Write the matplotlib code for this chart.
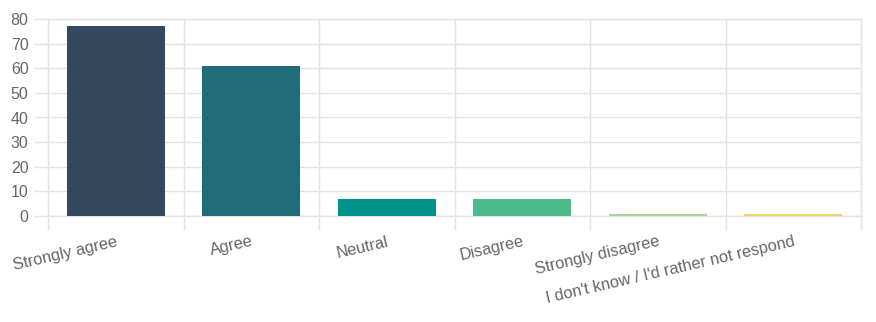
import matplotlib
matplotlib.use("Agg")
import matplotlib.pyplot as plt
import numpy as np

categories = ["Strongly agree", "Agree", "Neutral", "Disagree",
              "Strongly disagree", "I don't know / I'd rather not respond"]
values = [77, 61, 7, 7, 1, 1]
colors = ["#34495E", "#206D79", "#00918A", "#4DBA8A", "#A6D58E", "#F3D06A"]
yticks = [0, 10, 20, 30, 40, 50, 60, 70, 80]

plt.rcParams['font.family'] = ['Liberation Sans', 'DejaVu Sans']

W, H = 876, 322
fig = plt.figure(figsize=(W / 100, H / 100), dpi=100)
ax = fig.add_axes([48 / W, (H - 216) / H, (861 - 48) / W, (216 - 19) / H])

x = np.arange(len(categories))
ax.bar(x, values, width=0.72, color=colors, zorder=3)

ax.set_xlim(-0.5, len(categories) - 0.5)
ax.set_ylim(0, 80)
ax.set_yticks(yticks)
ax.set_yticklabels([str(t) for t in yticks], fontsize=11.5, color="#666666")

ax.set_xticks(x)
ax.set_xticklabels(categories, rotation=13, ha="right", rotation_mode="anchor",
                   fontsize=11.8, color="#666666")
ax.set_xticks(np.arange(len(categories) + 1) - 0.5, minor=True)

gc = "#e3e3e3"
ax.grid(True, axis="y", which="major", color=gc, linewidth=1, zorder=0)
ax.grid(True, axis="x", which="minor", color=gc, linewidth=1, zorder=0)
ax.tick_params(axis="x", which="major", length=0, pad=13)
ax.tick_params(axis="x", which="minor", length=10, color=gc, width=1)
ax.tick_params(axis="y", length=10, color=gc, width=1, pad=4)
for s in ax.spines.values():
    s.set_color(gc)
    s.set_linewidth(1)

fig.savefig("out.png", dpi=100)
